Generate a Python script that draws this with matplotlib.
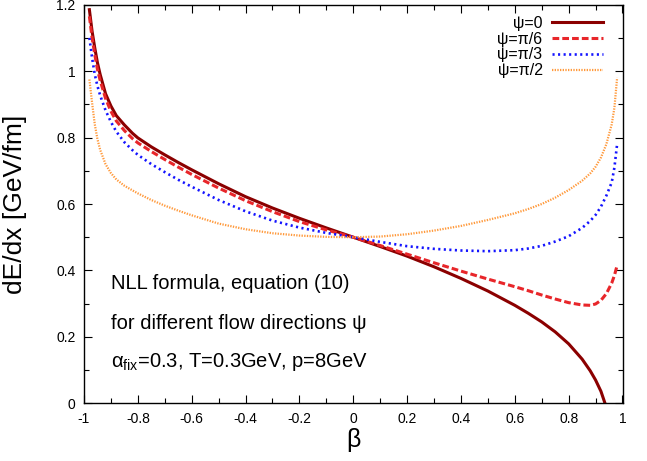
import matplotlib
matplotlib.use("Agg")
import matplotlib.pyplot as plt
import numpy as np

plt.rcParams['font.family'] = ['Liberation Sans', 'DejaVu Sans']
plt.rcParams['mathtext.fontset'] = 'custom'
plt.rcParams['mathtext.rm'] = 'Liberation Sans'
plt.rcParams['mathtext.it'] = 'Liberation Sans'

# data
beta = [-0.98, -0.97, -0.96, -0.95, -0.94, -0.92, -0.90, -0.88, -0.85, -0.82, -0.80,
        -0.75, -0.70, -0.65, -0.60, -0.5, -0.4, -0.3, -0.2, -0.1, 0.0, 0.1, 0.2, 0.3,
        0.4, 0.5, 0.6, 0.65, 0.7, 0.75, 0.8, 0.85, 0.88, 0.9, 0.92, 0.94, 0.96, 0.97,
        0.98]

beta_psi0 = [-0.98, -0.97, -0.96, -0.95, -0.94, -0.92, -0.90, -0.88, -0.85, -0.82, -0.80,
             -0.75, -0.70, -0.65, -0.60, -0.5, -0.4, -0.3, -0.2, -0.1, 0.0, 0.1, 0.2, 0.3,
             0.4, 0.5, 0.6, 0.65, 0.7, 0.75, 0.8, 0.85, 0.88, 0.9, 0.92, 0.935]
psi0 = [1.185, 1.12, 1.07, 1.025, 0.99, 0.932, 0.895, 0.866, 0.838, 0.813, 0.799,
        0.772, 0.748, 0.725, 0.703, 0.661, 0.622, 0.588, 0.557, 0.528, 0.5, 0.472, 0.443,
        0.411, 0.376, 0.338, 0.295, 0.271, 0.245, 0.215, 0.179, 0.133, 0.098, 0.07, 0.036,
        0.0]

psi6 = [1.165, 1.10, 1.05, 1.005, 0.972, 0.918, 0.879, 0.85, 0.821, 0.797, 0.784,
        0.758, 0.734, 0.711, 0.689, 0.648, 0.61, 0.577, 0.547, 0.522, 0.5, 0.475, 0.449,
        0.423, 0.398, 0.374, 0.351, 0.339, 0.326, 0.314, 0.303, 0.296, 0.295, 0.299,
        0.31, 0.33, 0.362, 0.385, 0.415]

psi3 = [1.10, 1.04, 0.99, 0.955, 0.927, 0.882, 0.847, 0.818, 0.786, 0.762, 0.748,
        0.72, 0.696, 0.673, 0.652, 0.612, 0.578, 0.55, 0.529, 0.513, 0.5, 0.486, 0.473,
        0.465, 0.46, 0.458, 0.461, 0.466, 0.474, 0.487, 0.503, 0.528, 0.549, 0.567,
        0.592, 0.625, 0.665, 0.71, 0.78]

psi2 = [0.975, 0.905, 0.84, 0.795, 0.763, 0.72, 0.693, 0.674, 0.655, 0.641, 0.632,
        0.612, 0.595, 0.58, 0.566, 0.541, 0.524, 0.512, 0.505, 0.501, 0.5, 0.502, 0.509,
        0.52, 0.534, 0.552, 0.572, 0.585, 0.60, 0.619, 0.642, 0.67, 0.692, 0.712,
        0.74, 0.78, 0.84, 0.89, 0.98]

labels = ['ψ=0', 'ψ=π/6', 'ψ=π/3', 'ψ=π/2']

fig = plt.figure(figsize=(6.47, 4.61), dpi=100)
L, R, T, B = 84, 622.5, 4.7, 403.3
ax = fig.add_axes([L/647, 1-B/461, (R-L)/647, (B-T)/461])

ax.plot(beta_psi0, psi0, color='#8b0000', lw=2.2, ls='-', label=labels[0])
ax.plot(beta, psi6, color='#e8262a', lw=2.2, ls=(0, (2.2, 1.0)), label=labels[1])
ax.plot(beta, psi3, color='#1414ff', lw=1.9, ls=(0, (0.8, 1.3)), label=labels[2])
ax.plot(beta, psi2, color='#ff9a3c', lw=1.6, ls=(0, (0.6, 0.6)), label=labels[3])

ax.set_xlim(-1, 1)
ax.set_ylim(0, 1.2)
ax.set_xticks(np.arange(-1, 1.01, 0.2))
ax.set_xticklabels(['-1', '-0.8', '-0.6', '-0.4', '-0.2', '0', '0.2', '0.4', '0.6', '0.8', '1'])
ax.set_yticks(np.arange(0, 1.21, 0.2))
ax.set_yticklabels(['0', '0.2', '0.4', '0.6', '0.8', '1', '1.2'])
ax.set_xticks(np.arange(-0.9, 1.0, 0.2), minor=True)
ax.set_yticks(np.arange(0.1, 1.2, 0.2), minor=True)
ax.tick_params(which='both', direction='in', top=True, right=True, labelsize=10, colors='black')
ax.tick_params(which='major', length=6, width=0.8, pad=6)
ax.tick_params(which='minor', length=3.5, width=0.8)
for s in ax.spines.values():
    s.set_linewidth(1.0)

ax.set_xlabel('β', fontsize=18, labelpad=2)
ax.set_ylabel('dE/dx [GeV/fm]', fontsize=19)
ax.yaxis.set_label_coords(-0.105, 0.5)

ax.text(-0.9, 0.36, 'NLL formula, equation (10)', fontsize=14.5, va='center')
ax.text(-0.9, 0.24, 'for different flow directions ψ', fontsize=14.5, va='center')
ax.text(-0.9, 0.125, r'$\alpha_{\rm fix}$=0.3, T=0.3GeV, p=8GeV', fontsize=14.5, va='center')

leg = ax.legend(loc='upper right', frameon=False, markerfirst=False, fontsize=11.5,
                handlelength=3.2, handletextpad=0.6, labelspacing=0.05,
                borderaxespad=0.3, bbox_to_anchor=(0.985, 1.0))

fig.savefig('out.png', dpi=100)
